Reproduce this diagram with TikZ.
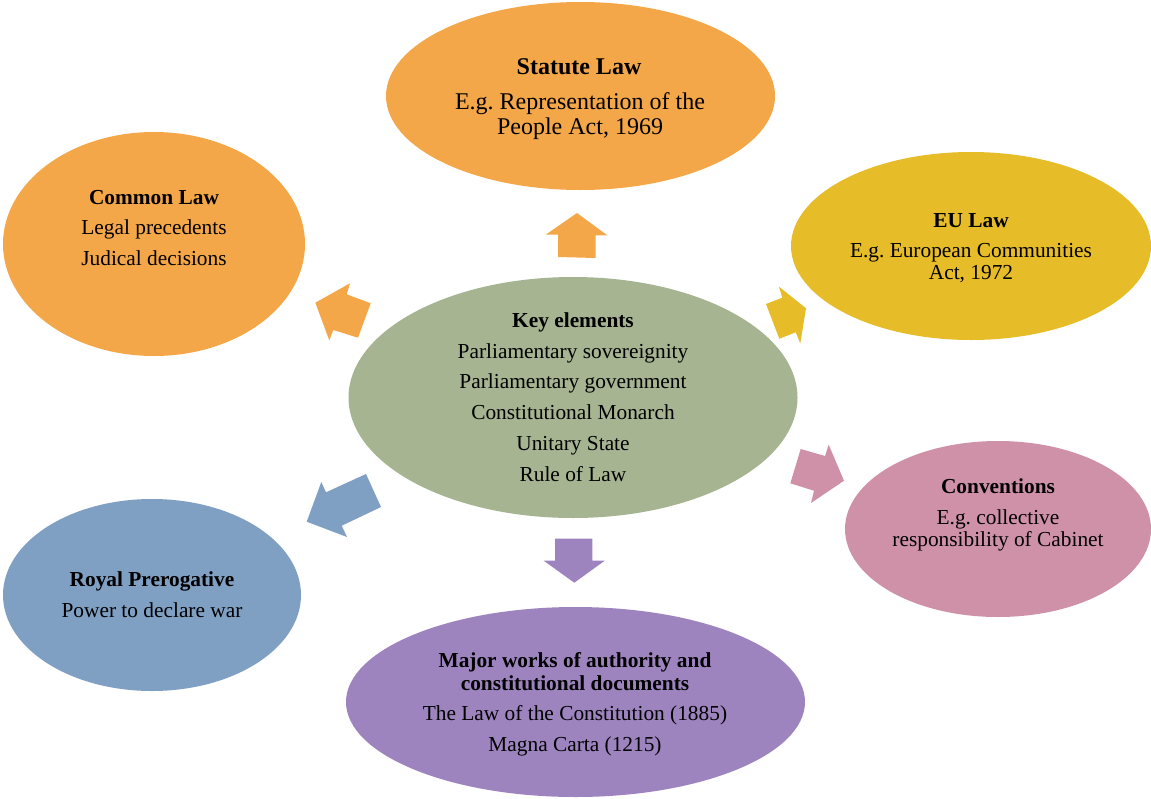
\documentclass[tikz,border=0pt]{standalone}
\usepackage{fontspec}
\setmainfont{Liberation Serif}
\definecolor{orangeF}{HTML}{F4A748}
\definecolor{yellowF}{HTML}{E6BC28}
\definecolor{greenF}{HTML}{A6B492}
\definecolor{pinkF}{HTML}{CF91A7}
\definecolor{blueF}{HTML}{7F9FC3}
\definecolor{purpleF}{HTML}{9E84BF}
\begin{document}
\frenchspacing
\begin{tikzpicture}[x=1pt,y=-1pt,
  blockarrow/.style={line width=0pt},
  big/.style={anchor=base,inner sep=0pt,font=\fontsize{24}{27}\selectfont},
  mid/.style={anchor=base,inner sep=0pt,font=\fontsize{21.35}{25}\selectfont},
  bigb/.style={big,font=\fontsize{24}{27}\selectfont\bfseries},
  midb/.style={mid,font=\fontsize{21.35}{25}\selectfont\bfseries}]
\useasboundingbox (0,0) rectangle (1151,798);
\fill[white] (0,0) rectangle (1151,798);
% ellipses
\path[fill=orangeF] (580.5,96) ellipse [x radius=194.5,y radius=94] coordinate (statute);
\path[fill=orangeF] (154,244) ellipse [x radius=151,y radius=112] coordinate (common);
\path[fill=yellowF] (971,246) ellipse [x radius=180,y radius=94] coordinate (eu);
\path[fill=greenF] (573,397.5) ellipse [x radius=224.5,y radius=120.5] coordinate (key);
\path[fill=pinkF] (998,529) ellipse [x radius=153,y radius=88] coordinate (conv);
\path[fill=blueF] (152,595) ellipse [x radius=149,y radius=96] coordinate (royal);
\path[fill=purpleF] (575.5,702) ellipse [x radius=229.5,y radius=95] coordinate (major);
% block arrows
\fill[orangeF,blockarrow] (577,213)--(607.5,235.5)--(595.5,235.3)--(595.5,258)--(558,257)--(558,234.5)--(546,234.5)--cycle;
\fill[orangeF,blockarrow] (315.3,302.7)--(350,283.3)--(346.7,294.3)--(370.7,303.3)--(358,337.7)--(333.3,330)--(329.3,340.3)--cycle;
\fill[yellowF,blockarrow] (806,308.3)--(779,286.7)--(782.3,297.7)--(766,304)--(779.3,338.7)--(795.7,332.3)--(800.3,343.3)--cycle;
\fill[pinkF,blockarrow] (844,480.7)--(828.7,444.7)--(825,456)--(800.7,449)--(790.3,483.3)--(814,490.7)--(811,503)--cycle;
\fill[blueF,blockarrow] (306.7,521.7)--(321.3,482)--(326,492.3)--(366,474)--(381,507)--(341.7,525.7)--(347,537)--cycle;
\fill[purpleF,blockarrow] (574.3,582.7)--(543.7,560.7)--(555,560.7)--(555,538.7)--(592.3,538.7)--(592.3,560.7)--(604.7,560.7)--cycle;
% text
\node[bigb] (s1) at (579,74) {Statute Law};
\node[big] (s2) at (580,109) {E.g. Representation of the};
\node[big] (s3) at (580,134) {People Act, 1969};
\node[midb] (c1) at (154,204) {Common Law};
\node[mid] (c2) at (154,234) {Legal precedents};
\node[mid] (c3) at (154,265) {Judical decisions};
\node[midb] (e1) at (971,227) {EU Law};
\node[mid] (e2) at (971,257) {E.g. European Communities};
\node[mid] (e3) at (971,279) {Act, 1972};
\node[midb] (k1) at (573,327) {Key elements};
\node[mid] (k2) at (573,358) {Parliamentary sovereignity};
\node[mid] (k3) at (573,388) {Parliamentary government};
\node[mid] (k4) at (573,419) {Constitutional Monarch};
\node[mid] (k5) at (573,450) {Unitary State};
\node[mid] (k6) at (573,481) {Rule of Law};
\node[midb] (n1) at (998,493) {Conventions};
\node[mid] (n2) at (998,524) {E.g. collective};
\node[mid] (n3) at (998,546) {responsibility of Cabinet};
\node[midb] (r1) at (152,586) {Royal Prerogative};
\node[mid] (r2) at (152,617) {Power to declare war};
\node[midb] (m1) at (575,667) {Major works of authority and};
\node[midb] (m2) at (575,690) {constitutional documents};
\node[mid] (m3) at (575,720) {The Law of the Constitution (1885)};
\node[mid] (m4) at (575,751) {Magna Carta (1215)};
\end{tikzpicture}
\end{document}
